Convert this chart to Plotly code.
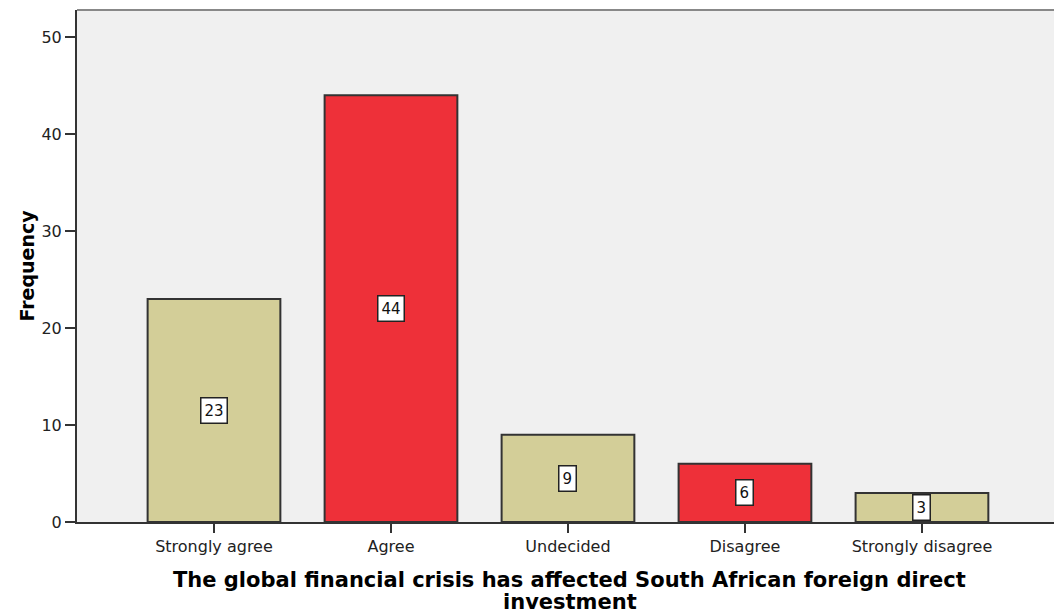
import plotly.graph_objects as go

categories = ["Strongly agree", "Agree", "Undecided", "Disagree", "Strongly disagree"]
frequency = [23, 44, 9, 6, 3]
bar_colors = ["#D3CE98", "#EE3039", "#D3CE98", "#EE3039", "#D3CE98"]
y_ticks = [0, 10, 20, 30, 40, 50]
x_title_lines = [
    "The global financial crisis has affected South African foreign direct",
    "investment",
]

FONT = "DejaVu Sans"

fig = go.Figure()
fig.add_trace(go.Bar(
    x=list(range(len(categories))),
    y=frequency,
    width=0.75,
    marker=dict(color=bar_colors, line=dict(color="#333333", width=2)),
    hoverinfo="skip",
))

# value boxes centred on each bar
for i, v in enumerate(frequency):
    fig.add_annotation(
        x=i, y=v / 2, text=str(v), showarrow=False,
        font=dict(family=FONT, size=15, color="#111"),
        bgcolor="white", bordercolor="#222", borderwidth=1.5, borderpad=3,
    )

# two-line axis title below the category labels
for k, line in enumerate(x_title_lines):
    fig.add_annotation(
        xref="paper", yref="paper", x=0.5046, y=-0.113 - 0.043 * k,
        yanchor="middle", text=f"<b>{line}</b>", showarrow=False,
        font=dict(family=FONT, size=21, color="black"),
    )

fig.update_layout(
    width=1054, height=614,
    margin=dict(l=77, r=0, t=10, b=92),
    paper_bgcolor="white",
    plot_bgcolor="#F0F0F0",
    showlegend=False,
    xaxis=dict(
        range=[-0.774, 4.746],
        tickmode="array", tickvals=list(range(len(categories))), ticktext=categories,
        ticks="outside", ticklen=9, tickcolor="#333", tickwidth=2,
        showline=True, linecolor="#333", linewidth=2,
        showgrid=False, zeroline=False,
        tickfont=dict(family=FONT, size=16, color="#222"),
        fixedrange=True,
    ),
    yaxis=dict(
        range=[0, 52.8],
        tickmode="array", tickvals=y_ticks,
        ticks="outside", ticklen=10, tickcolor="#333", tickwidth=2,
        showline=True, linecolor="#333", linewidth=2,
        showgrid=False, zeroline=False,
        tickfont=dict(family=FONT, size=16, color="#222"),
        title=dict(text="<b>Frequency</b>", standoff=2,
                   font=dict(family=FONT, size=19, color="black")),
        fixedrange=True,
    ),
    shapes=[dict(type="line", xref="paper", yref="paper", x0=0, x1=1, y0=1, y1=1,
                 line=dict(color="#888", width=2))],
)

fig.write_html("out.html")
